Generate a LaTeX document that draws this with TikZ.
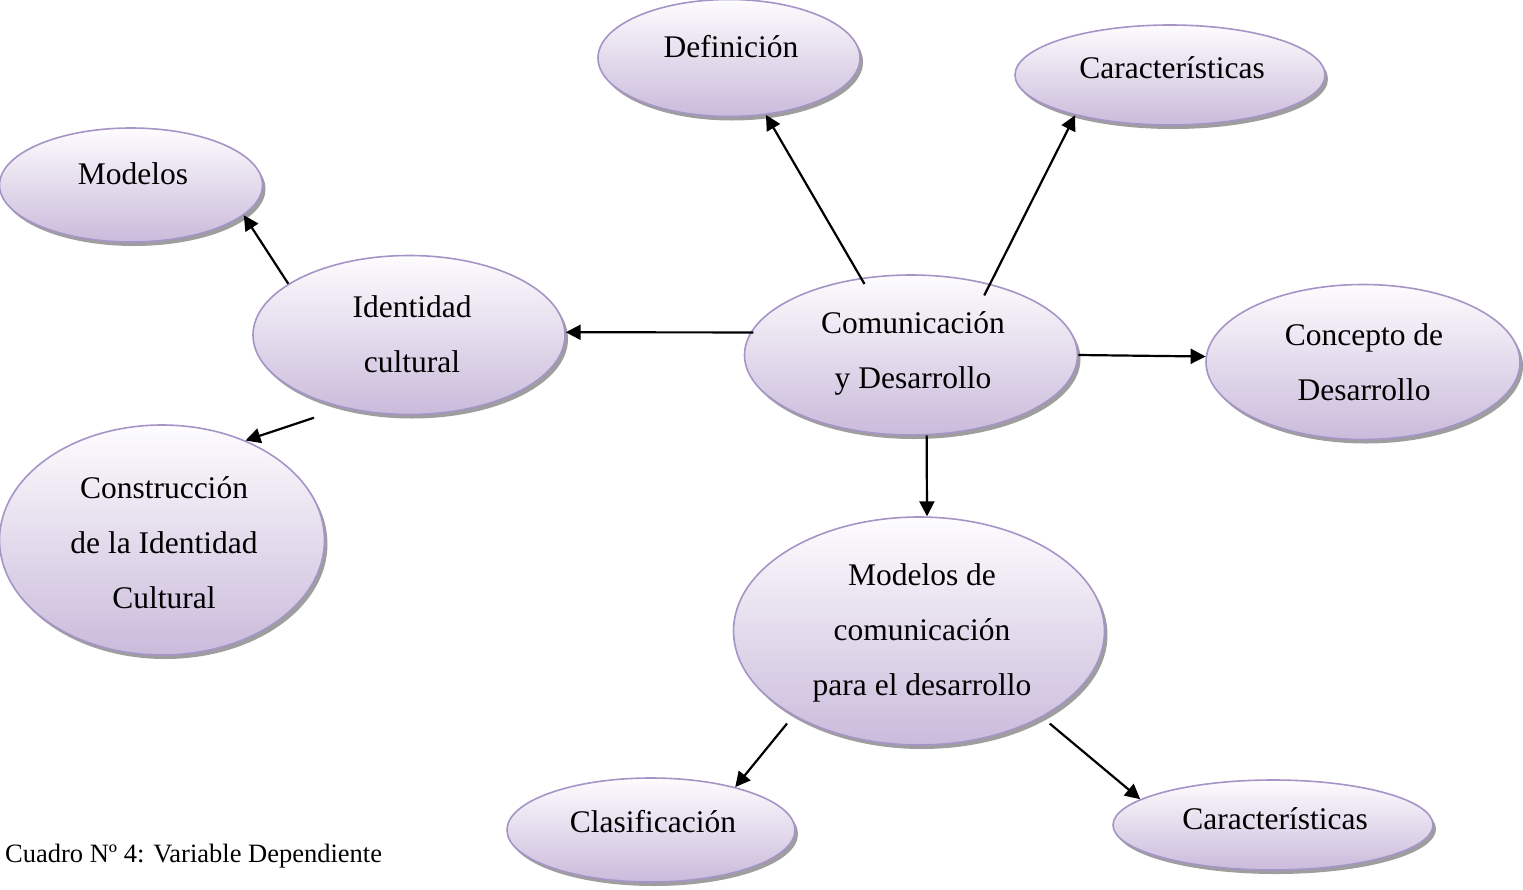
\documentclass[tikz,border=0pt]{standalone}
\usepackage{fontspec}
\setmainfont{Liberation Serif}
\usetikzlibrary{shapes.geometric,arrows.meta,shadows}
\definecolor{ovtop}{RGB}{253,252,254}
\definecolor{ovbot}{RGB}{202,187,219}
\definecolor{ovdraw}{RGB}{165,148,198}
\tikzset{
  oval/.style={ellipse, inner sep=0pt, draw=ovdraw, line width=1.6pt,
    top color=ovtop, bottom color=ovbot,
    drop shadow={shadow xshift=3pt, shadow yshift=-4pt, fill=black, opacity=0.38}},
  txt/.style={font=\fontsize{31.5}{55}\selectfont, align=center, inner sep=0pt},
  conn/.style={line width=2.2pt, -{Triangle[length=15pt,width=15pt]}},
}
\begin{document}
\begin{tikzpicture}[x=1pt,y=-1pt]
\useasboundingbox (0,0) rectangle (1523,889);
% ovals
\node[oval, minimum width=262pt, minimum height=117pt] (def) at (729,58) {};
\node[oval, minimum width=310pt, minimum height=100pt] (car1) at (1170,75) {};
\node[oval, minimum width=263pt, minimum height=114pt] (mod) at (131,185) {};
\node[oval, minimum width=312pt, minimum height=159pt] (ident) at (409,335) {};
\node[oval, minimum width=333pt, minimum height=160pt] (com) at (911,355) {};
\node[oval, minimum width=314pt, minimum height=155pt] (conc) at (1363,362) {};
\node[oval, minimum width=325pt, minimum height=230pt] (constr) at (162,540) {};
\node[oval, minimum width=371pt, minimum height=228pt] (modcom) at (919,631) {};
\node[oval, minimum width=288pt, minimum height=104pt] (clas) at (651,830) {};
\node[oval, minimum width=320pt, minimum height=90pt] (car2) at (1273,825) {};
% texts
\node[txt] (tdef) at (731,47) {Definición};
\node[txt] (tcar1) at (1172,68) {Características};
\node[txt] (tmod) at (133,174) {Modelos};
\node[txt] (tident) at (412,334) {Identidad\\cultural};
\node[txt] (tcom) at (913,353) {Comunicación\\y Desarrollo};
\node[txt] (tconc) at (1364,362) {Concepto de\\Desarrollo};
\node[txt] (tconstr) at (164,543) {Construcción\\de la Identidad\\Cultural};
\node[txt] (tmodcom) at (922,633) {Modelos de\\comunicación\\para el desarrollo};
\node[txt] (tclas) at (653,822) {Clasificación};
\node[txt] (tcar2) at (1275,819) {Características};
\node[font=\fontsize{26.5}{30}\selectfont, anchor=west, inner sep=0pt] (cap) at (5,856) {Cuadro Nº 4: Variable Dependiente};
% connectors
\draw[conn, shorten <=-7pt] (com.123.1) -- (def.-57);
\draw[conn, shorten <=-13pt] (com.42.4) -- (car1.203.6);
\draw[conn, shorten <=-3pt] (com.172.5) -- (ident.1.1);
\draw[conn] (com.-0.9) -- (conc.178.5);
\draw[conn] (com.-79.4) -- (modcom.86.5);
\draw[conn] (ident.157.2) -- (mod.-15.9);
\draw[conn, shorten <=31pt] (ident.228.2) -- (constr.50.3);
\draw[conn, shorten <=10pt] (modcom.214.95) -- (clas.27.4);
\draw[conn, shorten <=10pt] (modcom.-35.7) -- (car2.169.7);
\end{tikzpicture}
\end{document}
